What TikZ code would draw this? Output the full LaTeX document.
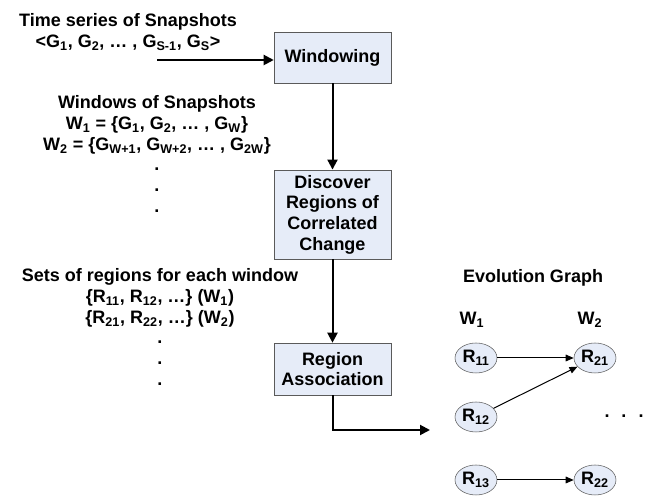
\documentclass[tikz,border=0pt]{standalone}
\usepackage{fontspec}
\setmainfont{Liberation Sans}
\usepackage{tikz}
\usetikzlibrary{positioning,shapes.geometric,arrows.meta}

\definecolor{boxfill}{RGB}{230,236,248}
\definecolor{boxline}{RGB}{90,90,90}

\begin{document}
\begin{tikzpicture}[x=0.75pt, y=-0.75pt,
    every node/.style = {align=center, font=\fontsize{13.5pt}{15.5pt}\selectfont\bfseries},
    stage/.style = {draw=boxline, fill=boxfill, minimum width=87.75pt, inner sep=1pt},
    region/.style = {ellipse, draw=boxline, fill=boxfill, minimum width=31.5pt, minimum height=22.5pt, inner sep=0pt},
    flow/.style = {-{Triangle[length=7.5pt,width=7.5pt]}, line width=1.5pt},
    link/.style = {-{Triangle[length=6pt,width=5pt]}, line width=0.75pt}]
  \useasboundingbox (0,0) rectangle (647,498);

  % pipeline
  \node[stage, minimum height=38pt] (win) at (332.5,57.5) {Windowing};
  \node[stage, minimum height=67pt] (disc) at (332.5,214.5) {Discover\\Regions of\\Correlated\\Change};
  \node[stage, minimum height=39pt] (assoc) at (332.5,369) {Region\\Association};

  % texts on the left
  \node (series) at (128,32) {Time series of Snapshots\\
    <G\textsubscript{1}, G\textsubscript{2}, \ldots\ , G\textsubscript{S-1}, G\textsubscript{S}>};
  \node (windows) at (157,154) {Windows of Snapshots\\
    W\textsubscript{1} = \{G\textsubscript{1}, G\textsubscript{2}, \ldots\ , G\textsubscript{W}\}\\
    W\textsubscript{2} = \{G\textsubscript{W+1}, G\textsubscript{W+2}, \ldots\ , G\textsubscript{2W}\}\\
    .\\ .\\ .};
  \node (sets) at (160,327) {Sets of regions for each window\\
    \{R\textsubscript{11}, R\textsubscript{12}, \ldots\} (W\textsubscript{1})\\
    \{R\textsubscript{21}, R\textsubscript{22}, \ldots\} (W\textsubscript{2})\\
    .\\ .\\ .};

  \coordinate (in) at (157,60);
  \coordinate (out) at (430,430);
  \draw[flow] (in) -- (in -| win.west);
  \draw[flow] (win) -- (disc);
  \draw[flow] (disc) -- (assoc);
  \draw[flow] (assoc.south) |- (out);

  % evolution graph
  \node (evo) at (533,278) {Evolution Graph};
  \node (w1) at (472,320) {W\textsubscript{1}};
  \node (w2) at (590,320) {W\textsubscript{2}};
  \node[region] (r11) at (476,358) {R\textsubscript{11}};
  \node[region] (r12) at (476,417) {R\textsubscript{12}};
  \node[region] (r13) at (476,480) {R\textsubscript{13}};
  \node[region] (r21) at (595,358) {R\textsubscript{21}};
  \node[region] (r22) at (595,480) {R\textsubscript{22}};
  \node (more) at (624,416) {.\hspace{9pt}.\hspace{9pt}.};

  \draw[link] (r11) -- (r21);
  \draw[link] (r12) -- (r21);
  \draw[link] (r13) -- (r22);
\end{tikzpicture}
\end{document}
